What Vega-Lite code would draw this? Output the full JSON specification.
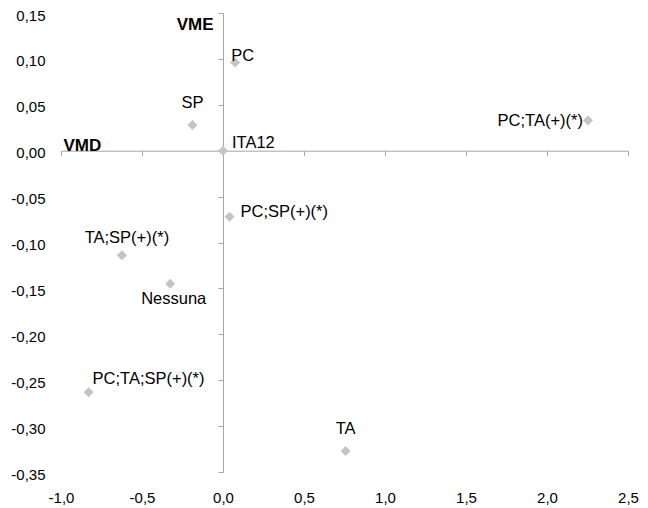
{
  "$schema": "https://vega.github.io/schema/vega-lite/v6.json",
  "autosize": "none",
  "padding": {"left": 61, "top": 13, "right": 20, "bottom": 36},
  "width": 567,
  "height": 459,
  "background": "white",
  "config": {"view": {"stroke": null}, "font": "Liberation Sans"},
  "data": {"values": [
    {"name": "PC", "x": 0.075, "y": 0.096},
    {"name": "SP", "x": -0.189, "y": 0.028},
    {"name": "ITA12", "x": 0.0, "y": 0.0},
    {"name": "PC;TA(+)(*)", "x": 2.253, "y": 0.033},
    {"name": "PC;SP(+)(*)", "x": 0.04, "y": -0.072},
    {"name": "TA;SP(+)(*)", "x": -0.624, "y": -0.114},
    {"name": "Nessuna", "x": -0.326, "y": -0.145},
    {"name": "PC;TA;SP(+)(*)", "x": -0.83, "y": -0.263},
    {"name": "TA", "x": 0.757, "y": -0.327}
  ]},
  "encoding": {
    "x": {"field": "x", "type": "quantitative",
      "scale": {"domain": [-1, 2.5], "nice": false, "zero": false},
      "axis": {"orient": "bottom", "offset": -321.3, "values": [-1, -0.5, 0, 0.5, 1, 1.5, 2, 2.5],
        "labelExpr": "replace(replace(format(datum.value, '.1f'), '.', ','), '\u2212', '-')",
        "grid": false, "domainColor": "#a6a6a6", "tickColor": "#a6a6a6", "tickSize": 5,
        "labelPadding": 335, "labelFlush": false, "labelFontSize": 15, "labelColor": "#000000", "labelFont": "Liberation Sans",
        "title": "VMD", "titleFont": "Liberation Sans", "titleFontSize": 17, "titleFontWeight": "bold", "titleColor": "#000000",
        "titleX": 2, "titleY": 0, "titleAlign": "left", "titleBaseline": "alphabetic", "titleAngle": 0}},
    "y": {"field": "y", "type": "quantitative",
      "scale": {"domain": [-0.35, 0.15], "nice": false, "zero": false},
      "axis": {"orient": "left", "offset": -162, "values": [-0.35, -0.3, -0.25, -0.2, -0.15, -0.1, -0.05, 0, 0.05, 0.1, 0.15],
        "labelExpr": "replace(replace(format(datum.value, '.2f'), '.', ','), '\u2212', '-')",
        "grid": false, "domainColor": "#a6a6a6", "tickColor": "#a6a6a6", "tickSize": 5,
        "labelPadding": 173, "labelFlush": false, "labelFontSize": 15, "labelColor": "#000000", "labelFont": "Liberation Sans", "labelOffset": 2,
        "title": "VME", "titleFont": "Liberation Sans", "titleFontSize": 17, "titleFontWeight": "bold", "titleColor": "#000000",
        "titleX": -10, "titleY": 16, "titleAlign": "right", "titleBaseline": "alphabetic", "titleAngle": 0}}
  },
  "layer": [
    {"mark": {"type": "point", "shape": "diamond", "filled": true, "size": 100, "color": "#c4c4c4", "opacity": 1}},
    {"transform": [{"filter": "datum.name === 'PC'"}],
     "mark": {"type": "text", "align": "left", "baseline": "middle", "dx": -4, "dy": -7, "fontSize": 16.5, "color": "#000000"},
     "encoding": {"text": {"field": "name"}}},
    {"transform": [{"filter": "datum.name === 'SP' || datum.name === 'TA'"}],
     "mark": {"type": "text", "align": "center", "baseline": "middle", "dx": 0, "dy": -22, "fontSize": 16.5, "color": "#000000"},
     "encoding": {"text": {"field": "name"}}},
    {"transform": [{"filter": "datum.name === 'ITA12'"}],
     "mark": {"type": "text", "align": "left", "baseline": "middle", "dx": 9, "dy": -8, "fontSize": 16.5, "color": "#000000"},
     "encoding": {"text": {"field": "name"}}},
    {"transform": [{"filter": "datum.name === 'PC;TA(+)(*)'"}],
     "mark": {"type": "text", "align": "right", "baseline": "middle", "dx": -5, "dy": 1, "fontSize": 16.5, "color": "#000000"},
     "encoding": {"text": {"field": "name"}}},
    {"transform": [{"filter": "datum.name === 'PC;SP(+)(*)'"}],
     "mark": {"type": "text", "align": "left", "baseline": "middle", "dx": 11, "dy": -5, "fontSize": 16.5, "color": "#000000"},
     "encoding": {"text": {"field": "name"}}},
    {"transform": [{"filter": "datum.name === 'TA;SP(+)(*)'"}],
     "mark": {"type": "text", "align": "center", "baseline": "middle", "dx": 5, "dy": -17, "fontSize": 16.5, "color": "#000000"},
     "encoding": {"text": {"field": "name"}}},
    {"transform": [{"filter": "datum.name === 'Nessuna'"}],
     "mark": {"type": "text", "align": "center", "baseline": "middle", "dx": 3.5, "dy": 15.5, "fontSize": 16.5, "color": "#000000"},
     "encoding": {"text": {"field": "name"}}},
    {"transform": [{"filter": "datum.name === 'PC;TA;SP(+)(*)'"}],
     "mark": {"type": "text", "align": "left", "baseline": "middle", "dx": 4, "dy": -13, "fontSize": 16.5, "color": "#000000"},
     "encoding": {"text": {"field": "name"}}}
  ]
}
